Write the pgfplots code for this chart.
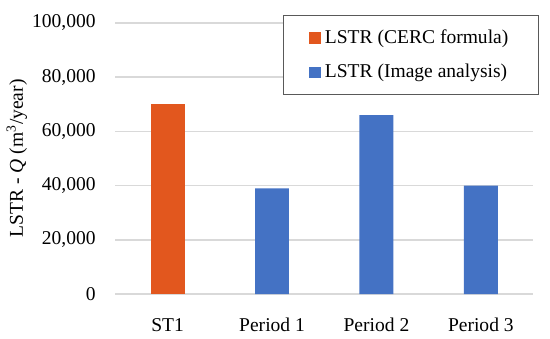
\documentclass[border=0pt]{standalone}
\usepackage{fontspec}
\setmainfont{Liberation Serif}
\usepackage{pgfplots}
\pgfplotsset{compat=1.18}
\definecolor{cerc}{HTML}{E2571E}
\definecolor{imgc}{HTML}{4472C4}
\definecolor{gridc}{HTML}{D9D9D9}
\definecolor{legc}{HTML}{595959}
\begin{document}
\fontsize{9.8bp}{11bp}\selectfont
\begin{tikzpicture}
\begin{axis}[
  scale only axis, width=209.5bp, height=136bp,
  xmin=-0.5, xmax=3.5, ymin=0, ymax=100000,
  scaled y ticks=false,
  ytick={0,20000,40000,60000,80000,100000},
  yticklabels={0,{20,000},{40,000},{60,000},{80,000},{100,000}},
  xtick={0,1,2,3}, xticklabels={ST1,Period 1,Period 2,Period 3},
  ybar, bar width=17bp, bar shift=0pt,
  axis line style={draw=none}, tick style={draw=none},
  ymajorgrids, grid style={gridc, line width=0.7bp},
  yticklabel style={xshift=-6.5bp},
  xticklabel style={yshift=-4.5bp},
  ylabel={LSTR - \textit{Q} (m\textsuperscript{3}/year)},
  ylabel style={at={(axis description cs:-0.2363,0.5)}, anchor=center},
  legend cell align=left,
  legend style={at={(axis description cs:0.401,1.029)}, anchor=north west,
    draw=legc, line width=0.6bp, inner xsep=13bp, inner ysep=5bp, row sep=5bp,
    font=\fontsize{9.8bp}{11bp}\selectfont},
  legend image code/.code={\fill[#1] (0bp,-2.9bp) rectangle (5.8bp,2.9bp);},
]
\addplot[fill=cerc, draw=none] coordinates {(0,70000)};
\addplot[fill=imgc, draw=none] coordinates {(1,39000) (2,66000) (3,40000)};
\legend{LSTR (CERC formula), LSTR (Image analysis)}
\end{axis}
\path[use as bounding box] (-57bp,-22.5bp) rectangle (218bp,147.5bp);
\end{tikzpicture}
\end{document}
